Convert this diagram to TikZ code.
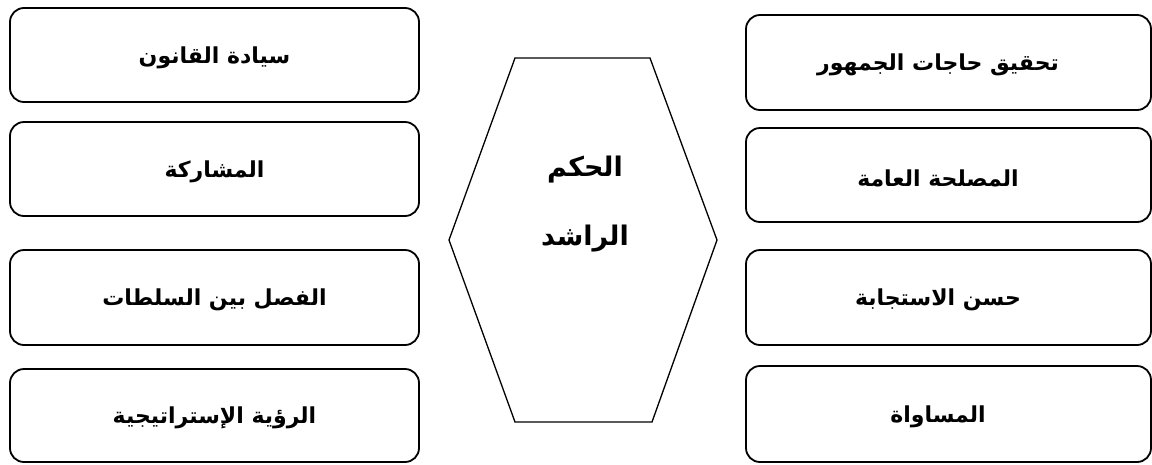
\documentclass[tikz,border=0pt]{standalone}
\usepackage{fontspec}
\TeXXeTstate=1
\newfontfamily\arabicfont[Script=Arabic]{DejaVu Sans}
\tikzset{
  itembox/.style={draw=black, line width=1.8pt, rounded corners=14pt},
  itemtext/.style={font=\arabicfont\bfseries\fontsize{22}{26}\selectfont, inner sep=0pt},
  hextext/.style={font=\arabicfont\bfseries\fontsize{27}{31}\selectfont, inner sep=0pt},
  hexline/.style={draw=black, line width=1.3pt, line join=miter}
}
\begin{document}
\begin{tikzpicture}[x=1pt,y=-1pt]
\useasboundingbox (0,0) rectangle (1152,464);
% left boxes
\draw[itembox] (10,8) rectangle (419,102);
\node[itemtext] (l1) at (214.5,58) {\beginR سيادة القانون\endR};
\draw[itembox] (10,122) rectangle (419,216);
\node[itemtext] (l2) at (214.5,172) {\beginR المشاركة\endR};
\draw[itembox] (10,250) rectangle (419,345);
\node[itemtext] (l3) at (214.5,300) {\beginR الفصل بين السلطات\endR};
\draw[itembox] (10,369) rectangle (419,462);
\node[itemtext] (l4) at (214.5,418) {\beginR الرؤية الإستراتيجية\endR};
% right boxes
\draw[itembox] (746,15) rectangle (1151,110);
\node[itemtext] (r1) at (938,65) {\beginR تحقيق حاجات الجمهور\endR};
\draw[itembox] (746,128) rectangle (1151,222);
\node[itemtext] (r2) at (938,178) {\beginR المصلحة العامة\endR};
\draw[itembox] (746,250) rectangle (1151,345);
\node[itemtext] (r3) at (938,300) {\beginR حسن الاستجابة\endR};
\draw[itembox] (746,366) rectangle (1151,462);
\node[itemtext] (r4) at (938,417) {\beginR المساواة\endR};
% hexagon
\coordinate (h1) at (515,58);
\coordinate (h2) at (650,58);
\coordinate (h3) at (717,240);
\coordinate (h4) at (652,422);
\coordinate (h5) at (515,422);
\coordinate (h6) at (449,240);
\draw[hexline] (h1) -- (h2) -- (h3) -- (h4) -- (h5) -- (h6) -- cycle;
\node[hextext] (c1) at (585,170) {\beginR الحكم\endR};
\node[hextext] (c2) at (585,239) {\beginR الراشد\endR};
\end{tikzpicture}
\end{document}
